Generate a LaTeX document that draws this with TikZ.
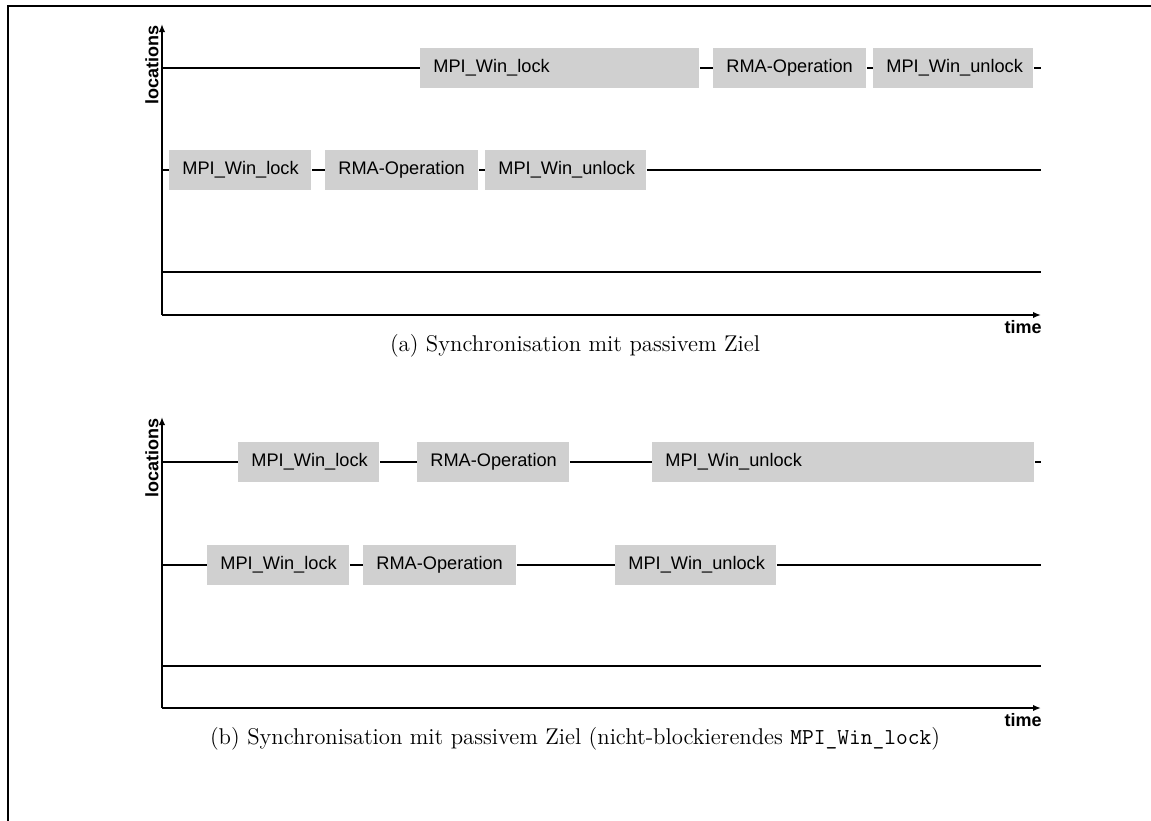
\documentclass[tikz,border=0pt]{standalone}
\usepackage{fontspec}
\setsansfont{Liberation Sans}
\usetikzlibrary{arrows.meta}
\definecolor{evgray}{RGB}{208,208,208}
\tikzset{
  tl/.style={line width=1.2pt},
  axis/.style={line width=1.2pt,-{Latex[length=4pt,width=3.2pt]}},
  evt/.style={fill=evgray,anchor=west,inner xsep=6.5pt,inner ysep=0pt,
    minimum height=20pt,font=\sffamily\fontsize{9.1}{10}\selectfont},
  axlabel/.style={inner sep=0pt,font=\sffamily\bfseries\fontsize{9}{10}\selectfont},
  caption/.style={anchor=base,inner sep=0pt,font=\fontsize{11.4}{14}\selectfont}
}
% event box: name, left x, right x, y, label (text left aligned)
\newcommand\tlbox[5]{%
  \pgfmathsetmacro\bw{(#3-#2)*0.5-13}%
  \node[evt] (#1) at (#2,#4) {\makebox[\bw pt][l]{#5}};}
\begin{document}
\begin{tikzpicture}[x=0.5pt,y=-0.5pt]
\useasboundingbox (0,0) rectangle (1151,820);
\clip (0,0) rectangle (1151,820);
% outer frame
\draw[line width=1.2pt] (8,830) -- (8,6) -- (1160,6);

% ---------- (a) ----------
\coordinate (aO) at (162,315);
\coordinate (aT) at (162,24);
\coordinate (aR) at (1041,315);
\draw[axis] (aO) -- (aT);
\draw[axis] (aO) -- (aR);
\node[axlabel,rotate=90,anchor=south east] (alocs) at (159,25) {locations};
\node[axlabel,anchor=north east] (atime) at (1042,320) {time};

\coordinate (a1s) at (162,68);  \coordinate (a1e) at (1041,68);
\coordinate (a2s) at (162,170); \coordinate (a2e) at (1041,170);
\coordinate (a3s) at (162,272); \coordinate (a3e) at (1041,272);

\tlbox{a1l}{420}{699}{68}{MPI\_Win\_lock}
\tlbox{a1r}{713}{866}{68}{RMA-Operation}
\tlbox{a1u}{873}{1033}{68}{MPI\_Win\_unlock}
\draw[tl] (a1s) -- (a1l.west) (a1l.east) -- (a1r.west) (a1r.east) -- (a1u.west) (a1u.east) -- (a1e);

\tlbox{a2l}{169}{311}{170}{MPI\_Win\_lock}
\tlbox{a2r}{325}{478}{170}{RMA-Operation}
\tlbox{a2u}{485}{646}{170}{MPI\_Win\_unlock}
\draw[tl] (a2s) -- (a2l.west) (a2l.east) -- (a2r.west) (a2r.east) -- (a2u.west) (a2u.east) -- (a2e);

\draw[tl] (a3s) -- (a3e);

\node[caption] (capa) at (575,351) {(a) Synchronisation mit passivem Ziel};

% ---------- (b) ----------
\coordinate (bO) at (162,708);
\coordinate (bT) at (162,417);
\coordinate (bR) at (1041,708);
\draw[axis] (bO) -- (bT);
\draw[axis] (bO) -- (bR);
\node[axlabel,rotate=90,anchor=south east] (blocs) at (159,418) {locations};
\node[axlabel,anchor=north east] (btime) at (1042,713) {time};

\coordinate (b1s) at (162,462); \coordinate (b1e) at (1041,462);
\coordinate (b2s) at (162,565); \coordinate (b2e) at (1041,565);
\coordinate (b3s) at (162,666); \coordinate (b3e) at (1041,666);

\tlbox{b1l}{238}{379}{462}{MPI\_Win\_lock}
\tlbox{b1r}{417}{569}{462}{RMA-Operation}
\tlbox{b1u}{652}{1034}{462}{MPI\_Win\_unlock}
\draw[tl] (b1s) -- (b1l.west) (b1l.east) -- (b1r.west) (b1r.east) -- (b1u.west) (b1u.east) -- (b1e);

\tlbox{b2l}{207}{349}{565}{MPI\_Win\_lock}
\tlbox{b2r}{363}{516}{565}{RMA-Operation}
\tlbox{b2u}{615}{776}{565}{MPI\_Win\_unlock}
\draw[tl] (b2s) -- (b2l.west) (b2l.east) -- (b2r.west) (b2r.east) -- (b2u.west) (b2u.east) -- (b2e);

\draw[tl] (b3s) -- (b3e);

\node[caption] (capb) at (575,744) {(b) Synchronisation mit passivem Ziel (nicht-blockierendes \texttt{MPI\_Win\_lock})};
\end{tikzpicture}
\end{document}
